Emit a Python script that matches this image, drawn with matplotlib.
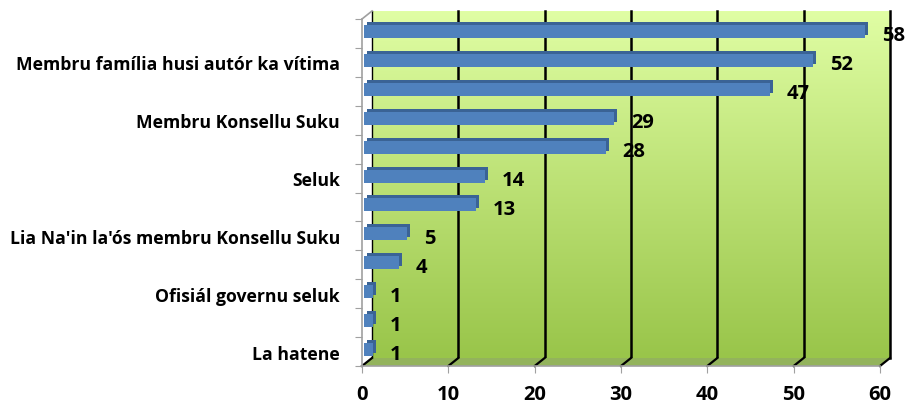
import numpy as np
import matplotlib
matplotlib.use("Agg")
import matplotlib.pyplot as plt
from matplotlib.patches import Polygon
from matplotlib.lines import Line2D
from matplotlib.transforms import offset_copy
from matplotlib.colors import LinearSegmentedColormap

# data, top bar first (Excel only shows every second category label)
categories = ["", "Membru família husi autór ka vítima", "", "Membru Konsellu Suku", "",
              "Seluk", "", "Lia Na'in la'ós membru Konsellu Suku", "",
              "Ofisiál governu seluk", "", "La hatene"]
values = [58, 52, 47, 29, 28, 14, 13, 5, 4, 1, 1, 1]
x_ticks = [0, 10, 20, 30, 40, 50, 60]

plt.rcParams['font.family'] = ['Open Sans', 'DejaVu Sans']

W, H = 911, 406
FL, FR, FT, FB = 362, 880, 20, 367   # front plane in pixels (from top-left)
DX, DY = 10, 8                       # 3d depth of the back wall
XMAX = x_ticks[-1]
n = len(values)
y = np.arange(n)

fig = plt.figure(figsize=(W / 100, H / 100), dpi=100)
aw, ah = (FR - FL) / W, (FB - FT) / H
back = fig.add_axes([(FL + DX) / W, 1 - (FB - DY) / H, aw, ah], zorder=0)
front = fig.add_axes([FL / W, 1 - FB / H, aw, ah], zorder=2)


def fxy(px, py):
    return (px / W, 1 - py / H)


# back wall with green gradient and black gridlines
wall = LinearSegmentedColormap.from_list("wall", ["#E0FEA4", "#BCE175", "#99C54A"])
back.imshow(np.linspace(0, 1, 256).reshape(-1, 1), aspect='auto', cmap=wall,
            extent=[0, XMAX, n - 0.5, -0.5])
back.set_xlim(0, XMAX)
back.set_ylim(n - 0.5, -0.5)
for t in x_ticks:
    back.axvline(t, color='black', lw=1.8 if t else 1.0, clip_on=False)
back.axis('off')

# floor
floor = Polygon([fxy(FL, FB), fxy(FR, FB), fxy(FR + DX, FB - DY), fxy(FL + DX, FB - DY)],
                closed=True, transform=fig.transFigure, facecolor='#93B35C',
                edgecolor='none', zorder=1)
fig.add_artist(floor)
for t in x_ticks:
    px = FL + (FR - FL) * t / XMAX
    fig.add_artist(Line2D(*zip(fxy(px + DX, FB - DY), fxy(px, FB)), transform=fig.transFigure,
                          color='black', lw=1.6, zorder=1))
fig.add_artist(Line2D(*zip(fxy(FL, FT), fxy(FL + DX, FT - DY)), transform=fig.transFigure,
                      color='#A0A0A0', lw=1.2, zorder=3))

# bars with a darker offset copy behind them for the 3d look
front.set_facecolor('none')
depth = offset_copy(front.transData, fig=fig, x=5, y=5, units='dots')
face = offset_copy(front.transData, fig=fig, x=2, y=2, units='dots')
front.barh(y, values, height=0.45, color='#3A6395', transform=depth)
front.barh(y, values, height=0.45, color='#4F81BD', transform=face)

for yi, v in zip(y, values):
    front.annotate(str(v), (v, yi), xytext=(19, -2), textcoords='offset pixels',
                   ha='left', va='center', fontsize=14.5, fontweight='bold', color='black',
                   annotation_clip=False)

front.set_xlim(0, XMAX)
front.set_ylim(n - 0.5, -0.5)
for s in ['top', 'right']:
    front.spines[s].set_visible(False)
for s in ['left', 'bottom']:
    front.spines[s].set_color('#A0A0A0')
    front.spines[s].set_linewidth(1.2)

front.set_xticks(x_ticks)
front.set_xticklabels([str(t) for t in x_ticks], fontsize=14.5, fontweight='bold')
front.tick_params(axis='x', length=5, color='#A0A0A0', pad=8)

front.set_yticks(np.arange(n + 1) - 0.5)
front.tick_params(axis='y', which='major', length=5, color='#A0A0A0', labelleft=False)
front.set_yticks(y, minor=True)
front.set_yticklabels(categories, minor=True, fontsize=12.7, fontweight='bold')
front.tick_params(axis='y', which='minor', length=0, pad=16)

fig.savefig('out.png', dpi=100)
